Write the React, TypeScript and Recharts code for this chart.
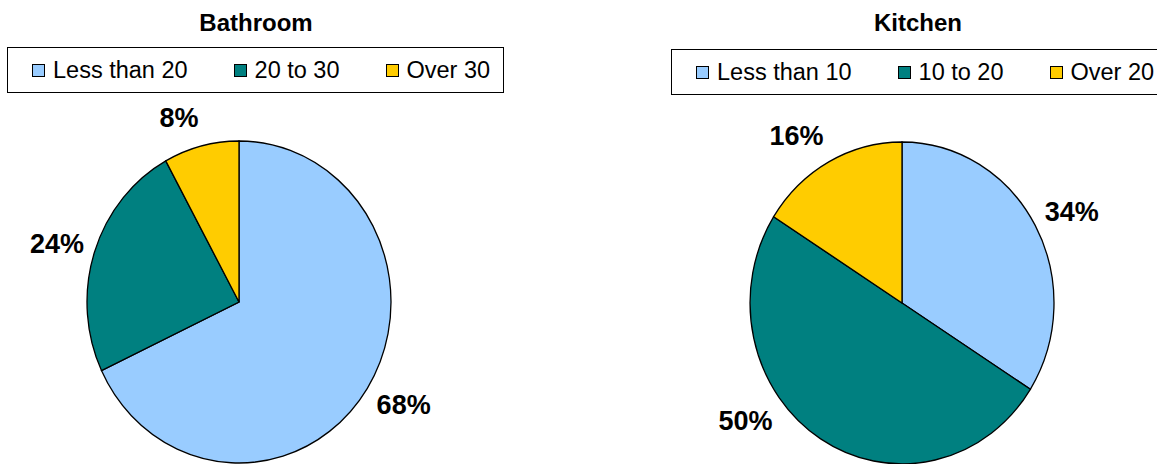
import { Cell, Pie, PieChart } from "recharts";

const bathroomCategories = ["Less than 20", "20 to 30", "Over 30"];
const bathroomValues = [68, 24, 8];
const kitchenCategories = ["Less than 10", "10 to 20", "Over 20"];
const kitchenValues = [34, 50, 16];
const sliceColors = ["#99CCFF", "#008080", "#FFCC00"];

const FONT = '"Liberation Sans", Arial, Helvetica, sans-serif';
// the original pies are slightly taller than wide
const RX = 152;
const RY = 161;
const K = RY / RX;
const LABEL_FONT = 27;
const MAX_LABEL_BOTTOM = 430;

function renderLabel(props: any) {
  const { cx, cy, midAngle, percent } = props;
  const text = `${Math.round(percent * 100)}%`;
  const halfW = (((text.length - 1) * 0.556 + 0.889) * LABEL_FONT) / 2;
  const halfH = 10;
  const a = (midAngle * Math.PI) / 180;
  const cos = Math.cos(a);
  const sin = Math.sin(a);
  let x = cx + cos * (RX + 11) + Math.sign(cos) * halfW;
  let y = cy - sin * RY - sin * (20 + halfH);
  if (y + halfH > MAX_LABEL_BOTTOM) {
    // push the label up beside the pie when it would fall off the bottom
    y = MAX_LABEL_BOTTOM - halfH;
    const dy = (y - cy) / RY;
    const edge = RX * Math.sqrt(Math.max(0, 1 - dy * dy));
    x = cx + Math.sign(cos) * (edge + 25 + halfW);
  }
  const ySvg = cy + (y - cy) / K;
  return (
    <text
      transform={`translate(${x},${ySvg}) scale(1,${1 / K})`}
      x={0}
      y={LABEL_FONT * 0.358}
      textAnchor="middle"
      fontFamily={FONT}
      fontWeight="bold"
      fontSize={LABEL_FONT}
      fill="#000"
    >
      {text}
    </text>
  );
}

function PieBlock({
  title,
  categories,
  values,
  left,
  width,
  cx,
  cy,
  titleCenter,
  legendLeft,
  legendTop,
}: {
  title: string;
  categories: string[];
  values: number[];
  left: number;
  width: number;
  cx: number;
  cy: number;
  titleCenter: number;
  legendLeft: number;
  legendTop: number;
}) {
  const data = categories.map((name, i) => ({ name, value: values[i] }));
  return (
    <>
      <div
        style={{
          position: "absolute",
          left: titleCenter - 200,
          top: 11,
          width: 400,
          textAlign: "center",
          fontFamily: FONT,
          fontWeight: "bold",
          fontSize: 24,
          lineHeight: "24px",
        }}
      >
        {title}
      </div>
      <div
        style={{
          position: "absolute",
          left: legendLeft,
          top: legendTop,
          width: 497,
          height: 46,
          border: "1px solid #000",
          display: "flex",
          alignItems: "center",
          paddingLeft: 24,
          boxSizing: "border-box",
          fontFamily: FONT,
          fontSize: 23.5,
          whiteSpace: "nowrap",
        }}
      >
        {categories.map((c, i) => (
          <div key={c} style={{ display: "flex", alignItems: "center", marginRight: 46 }}>
            <span
              style={{
                display: "inline-block",
                width: 11,
                height: 11,
                border: "1px solid #000",
                background: sliceColors[i],
                marginRight: 8,
              }}
            />
            <span>{c}</span>
          </div>
        ))}
      </div>
      <div
        style={{
          position: "absolute",
          left,
          top: 0,
          width,
          height: 464,
          transform: `scaleY(${K})`,
          transformOrigin: `${cx}px ${cy}px`,
        }}
      >
        <PieChart width={width} height={464} margin={{ top: 0, right: 0, bottom: 0, left: 0 }}>
          <Pie
            data={data}
            dataKey="value"
            nameKey="name"
            cx={cx}
            cy={cy}
            outerRadius={RX}
            startAngle={90}
            endAngle={-270}
            stroke="#000"
            strokeWidth={1.3}
            label={renderLabel}
            labelLine={false}
            isAnimationActive={false}
          >
            {data.map((d, i) => (
              <Cell key={d.name} fill={sliceColors[i]} />
            ))}
          </Pie>
        </PieChart>
      </div>
    </>
  );
}

export default function App() {
  return (
    <div
      style={{
        position: "absolute",
        left: 0,
        top: 0,
        width: 1157,
        height: 464,
        overflow: "hidden",
        background: "#fff",
      }}
    >
      <PieBlock
        title="Bathroom"
        categories={bathroomCategories}
        values={bathroomValues}
        left={0}
        width={520}
        cx={239}
        cy={302}
        titleCenter={256}
        legendLeft={7}
        legendTop={47}
      />
      <PieBlock
        title="Kitchen"
        categories={kitchenCategories}
        values={kitchenValues}
        left={640}
        width={517}
        cx={262}
        cy={303}
        titleCenter={918}
        legendLeft={671}
        legendTop={49}
      />
    </div>
  );
}
